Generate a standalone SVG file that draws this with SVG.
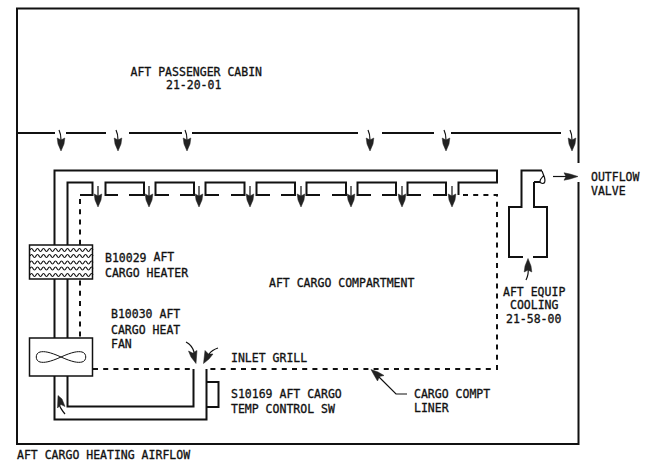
<svg xmlns="http://www.w3.org/2000/svg" width="645" height="467" viewBox="0 0 645 467">
<style>
text{font-family:"DejaVu Sans Mono","Liberation Mono",monospace;font-size:11.500px;fill:#111;stroke:#111;stroke-width:.3}
.l{fill:none;stroke:#111;stroke-width:2}
.t{fill:none;stroke:#111;stroke-width:1.200}
.f{fill:none;stroke:#111;stroke-width:1}
.d{fill:none;stroke:#111;stroke-width:2;stroke-dasharray:5 5.200}
.b{fill:#fff;stroke:#111;stroke-width:1.500}
.h{fill:#222;stroke:#222;stroke-width:.5;stroke-linejoin:round}
</style>
<defs>
<g id="down"><path class="t" d="M0 -21V-11"/><path class="h" d="M-3.800 -13 0 -11 3.800 -13 3 -7 0 0 -3 -7Z"/></g>
<g id="ceil"><path class="t" d="M-2 -21Q0 -17 0 -11"/><path class="h" d="M-3.800 -13 0 -11 3.800 -13 3 -7 0 0 -3 -7Z"/></g>
<path id="wave" class="t" d="M30 0q1.500 -3 3 0t3 0t3 0t3 0t3 0t3 0t3 0t3 0t3 0t3 0t3 0t3 0t3 0t3 0t3 0t3 0t3 0t3 0t3 0t3 0t3 0"/>
</defs>
<g id="connectors">
<path class="l" d="M17 133H55M66 133H106M129 133H182M192 133H358M382 133H434M451 133H561"/>
<path class="l" d="M54.500 338V170.500H497V182.500H458.500V195"/>
<path class="l" d="M67.500 338V182.500H92.500V195H80"/>
<path class="l" d="M118 195H105.500V182.500H144V195H129M169 195H155.500V182.500H194V195H180M219 195H205.500V182.500H244.500V195H231M270 195H256.500V182.500H295V195H281M320 195H306.500V182.500H346V195H332M371 195H357.500V182.500H396V195H382M421 195H407.500V182.500H446V195H433"/>
<path class="d" d="M80 199V338"/>
<path class="d" d="M463 195H497V369H206"/>
<path class="d" d="M93 369H193"/>
<path class="l" d="M54.500 376V419.500H206.500V369"/>
<path class="l" d="M67.500 376V406.500H193.500V369"/>
<path class="l" d="M523 257H509V207H521.500V170.500H542M534 182V207H547V257H533"/>
<path class="l" d="M534 182H540"/>
<path class="t" d="M542 171L544.500 177.500Q546 183.500 542.500 183.500Q539 183 540.500 179.500L544 175"/>
<use href="#ceil" x="61" y="151"/><use href="#ceil" x="118" y="151"/><use href="#ceil" x="187" y="151"/><use href="#ceil" x="370" y="151"/><use href="#ceil" x="446" y="151"/><use href="#ceil" x="572" y="151"/>
<use href="#down" x="98" y="207"/><use href="#down" x="149" y="207"/><use href="#down" x="199" y="207"/><use href="#down" x="250" y="207"/><use href="#down" x="301" y="207"/><use href="#down" x="351" y="207"/><use href="#down" x="402" y="207"/><use href="#down" x="452" y="207"/>
<path class="t" d="M553 176.500H566"/><path class="h" d="M564 172.800 566 176.500 564 180.200 570 179 578 176.500 570 174Z"/>
<path class="t" d="M526 280Q529 274 528 268"/><path class="h" d="M524.200 272 528 270 531.800 272 531 266 528 258.500 525 266Z"/>
<path class="t" d="M186 342Q192 345 194 352"/><path class="h" d="M188.500 351 192.500 353 197 350.500 196 363.500 191 357Z"/>
<path class="t" d="M218 348Q212 350 209 354"/><path class="h" d="M203.500 363.500 205 350.500 208.500 354 213 354 209 359Z"/>
<path class="t" d="M65 414Q60 408 59 404"/><path class="h" d="M58 395.500 62 399 65 406.500 61 404.500 57.500 408Z"/>
<path class="t" d="M407 394H396L378 376"/><path class="h" d="M371 369.500 378 372 384 375.500 379.500 376.500 377.500 381 374 375Z"/>
</g>
<g id="cabin"><path class="l" d="M17 133V444H578.500V182M578.500 163V8.500H17V133"/></g>
<g id="heater">
<rect class="b" x="29.500" y="245" width="63" height="34"/>
<use href="#wave" y="250"/><use href="#wave" y="256"/><use href="#wave" y="262.500"/><use href="#wave" y="268.500"/><use href="#wave" y="275"/>
</g>
<g id="fan">
<rect class="b" x="29.500" y="338" width="63" height="38"/>
<path class="f" d="M61 357C50 352 44 351 40 352C35 353 35 361 40 362C44 363 50 362 61 357C72 352 78 351 82 352C87 353 87 361 82 362C78 363 72 362 61 357Z"/>
</g>
<g id="switch"><path class="l" d="M206.500 382H218.500V407H206.500"/></g>
<g id="labels">
<text x="130.500" y="75.500">AFT PASSENGER CABIN</text>
<text x="166" y="89">21-20-01</text>
<text x="105" y="262">B10029 <tspan dy="-1">AFT</tspan></text>
<text x="105" y="277">CARGO HEATER</text>
<text x="111" y="318">B10030 AFT</text>
<text x="111" y="334">CARGO HEAT</text>
<text x="111" y="348">FAN</text>
<text x="269" y="287">AFT CARGO COMPARTMENT</text>
<text x="231" y="362">INLET GRILL</text>
<text x="231" y="398">S10169 AFT CARGO</text>
<text x="231" y="413">TEMP CONTROL SW</text>
<text x="414" y="398">CARGO COMPT</text>
<text x="414" y="412">LINER</text>
<text x="591" y="181">OUTFLOW</text>
<text x="591" y="195">VALVE</text>
<text x="503" y="295.500">AFT EQUIP</text>
<text x="510" y="309">COOLING</text>
<text x="506" y="322.500">21-58-00</text>
<text x="17" y="459">AFT CARGO HEATING AIRFLOW</text>
</g>
</svg>
